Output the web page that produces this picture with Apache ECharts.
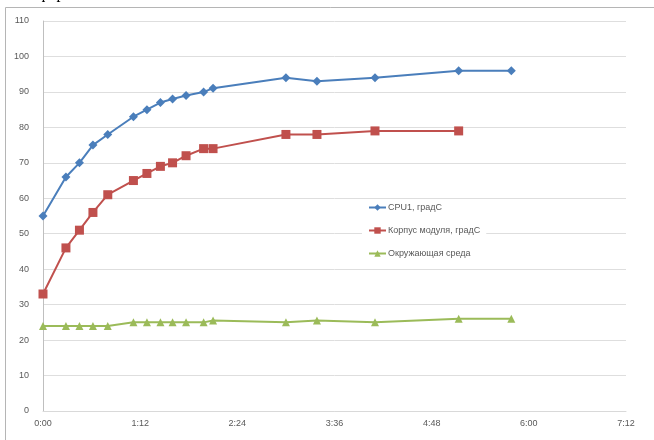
<!DOCTYPE html>
<html>
<head>
<meta charset="utf-8">
<script src="https://cdn.jsdelivr.net/npm/echarts@6/dist/echarts.min.js"></script>
<style>
  html, body { margin: 0; padding: 0; background: #fff; }
  #chart { width: 654px; height: 440px; }
</style>
</head>
<body>
<div id="chart"></div>
<script>
// время в минутах от начала
var minutes = [0, 17, 27, 37, 48, 67, 77, 87, 96, 106, 119, 126, 180, 203, 246, 308, 347];
var cpu1 = [55, 66, 70, 75, 78, 83, 85, 87, 88, 89, 90, 91, 94, 93, 94, 96, 96];
var korpus = [33, 46, 51, 56, 61, 65, 67, 69, 70, 72, 74, 74, 78, 78, 79, 79];
var sreda = [24, 24, 24, 24, 24, 25, 25, 25, 25, 25, 25, 25.5, 25, 25.5, 25, 26, 26];
var names = ['CPU1, градС', 'Корпус модуля, градС', 'Окружающая среда'];

function pairs(vals) {
    return vals.map(function (v, i) { return [minutes[i], v]; });
}

var chart = echarts.init(document.getElementById('chart'));

var option = {
    animation: false,
    graphic: [{
        type: 'rect',
        shape: { x: 5.5, y: 7.5, width: 700, height: 500 },
        style: { fill: 'none', stroke: '#b5b5b5', lineWidth: 1 },
        z: -1
    }, {
        type: 'text',
        left: 8,
        top: -14,
        style: { text: 'платформы.', font: '16px "Liberation Serif", serif', fill: '#000' }
    }],
    grid: { left: 43, right: 28, top: 21, bottom: 29 },
    legend: {
        orient: 'vertical',
        left: 362,
        top: 200,
        itemWidth: 17,
        itemHeight: 8,
        itemGap: 14,
        backgroundColor: '#fff',
        padding: [3, 6],
        textStyle: { color: '#595959', fontSize: 9, padding: [0, 0, 0, -3] },
        data: names
    },
    xAxis: {
        type: 'value',
        min: 0,
        max: 432,
        interval: 72,
        axisLine: { show: true, lineStyle: { color: '#d9d9d9' } },
        axisTick: { show: false },
        splitLine: { show: false },
        axisLabel: {
            show: true,
            color: '#595959',
            fontSize: 9,
            margin: 8,
            formatter: function (v) {
                var h = Math.floor(v / 60), m = v % 60;
                return h + ':' + (m < 10 ? '0' + m : m);
            }
        }
    },
    yAxis: {
        type: 'value',
        min: 0,
        max: 110,
        interval: 10,
        axisLine: { show: true, lineStyle: { color: '#bfbfbf' } },
        axisTick: { show: false },
        splitLine: { lineStyle: { color: '#dedede' } },
        axisLabel: { color: '#595959', fontSize: 9, margin: 14 }
    },
    series: [{
        name: names[0],
        type: 'line',
        data: pairs(cpu1),
        symbol: 'diamond',
        symbolSize: 9,
        lineStyle: { color: '#4a7ebb', width: 2 },
        itemStyle: { color: '#4a7ebb' }
    }, {
        name: names[1],
        type: 'line',
        data: pairs(korpus),
        symbol: 'rect',
        symbolSize: 9,
        lineStyle: { color: '#c0504d', width: 2 },
        itemStyle: { color: '#c0504d' }
    }, {
        name: names[2],
        type: 'line',
        data: pairs(sreda),
        symbol: 'triangle',
        symbolSize: 8,
        lineStyle: { color: '#9bbb59', width: 2 },
        itemStyle: { color: '#9bbb59' }
    }]
};
chart.setOption(option);
window.addEventListener('resize', function () {
    chart.resize();
});
</script>
</body>
</html>
